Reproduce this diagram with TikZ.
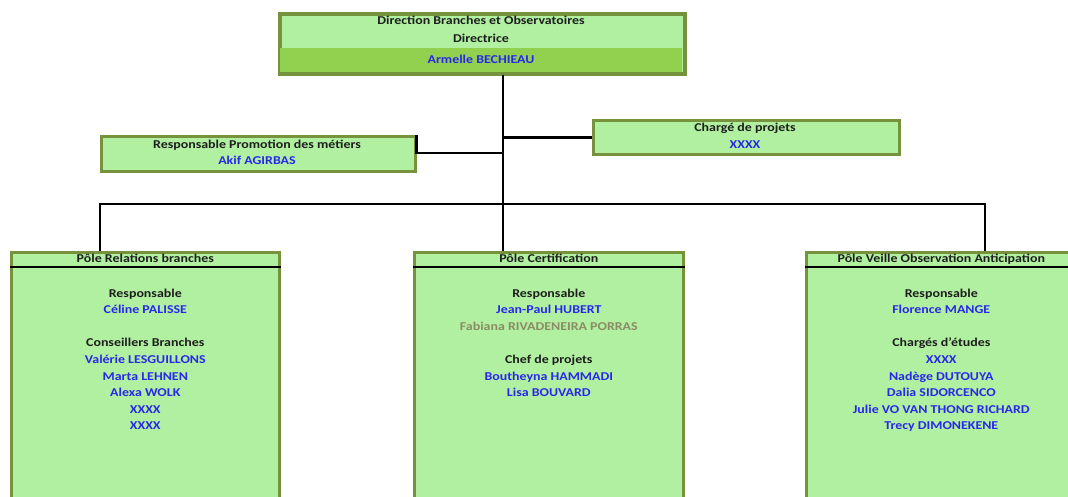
\documentclass[tikz,border=0pt]{standalone}
\usepackage{fontspec}
\setmainfont{Carlito}[FakeStretch=1.16]
\definecolor{boxfill}{RGB}{176,240,160}
\definecolor{bandfill}{RGB}{146,208,80}
\definecolor{boxline}{RGB}{118,146,60}
\definecolor{nameblue}{RGB}{40,40,235}
\definecolor{txtdark}{RGB}{30,30,30}
\definecolor{oldname}{RGB}{140,140,100}
\begin{document}
\begin{tikzpicture}[x=1pt,y=1pt,
  box/.style={draw=boxline, line width=2.6pt, fill=boxfill, inner sep=0pt, anchor=north west},
  conn/.style={draw=black, line width=2.9pt},
  lbl/.style={font=\fontsize{12}{16.6}\selectfont\bfseries, text=txtdark, align=center, inner sep=0pt},
  nm/.style={lbl, text=nameblue}]
\useasboundingbox (0,0) rectangle (1068,-497);

% top box
\node[box, minimum width=404, minimum height=59] (dir) at (279,-13) {};
\fill[bandfill] (280.3,-48) rectangle (681.7,-71.7);
\draw[boxline, line width=2.6pt] (dir.north west) rectangle (dir.south east);
\node[lbl, anchor=base] (dir1) at (481,-24.8) {Direction Branches et Observatoires};
\node[lbl, anchor=base] (dir2) at (481,-42.3) {Directrice};
\node[nm, anchor=base] (dir3) at (481,-63.3) {Armelle BECHIEAU};

% side boxes
\node[box, minimum width=314, minimum height=35] (promo) at (100,-135) {};
\node[lbl, anchor=base] (promo1) at (257,-148.8) {Responsable Promotion des métiers};
\node[nm, anchor=base] (promo2) at (257,-164.8) {Akif AGIRBAS};

\node[box, minimum width=306, minimum height=34] (chg) at (592,-119) {};
\node[lbl, anchor=base] (chg1) at (745,-131.3) {Chargé de projets};
\node[nm, anchor=base] (chg2) at (745,-148.3) {XXXX};

% poles
\node[box, minimum width=268, minimum height=262] (p1) at (10,-251) {};
\node[box, minimum width=269, minimum height=262] (p2) at (413,-251) {};
\node[box, minimum width=270, minimum height=262] (p3) at (805,-251) {};
\foreach \p in {p1,p2,p3}{
  \draw[line width=2.8pt] ([yshift=-16pt]\p.north west) -- ([yshift=-16pt]\p.north east);
}
\node[lbl, anchor=base] (p1t) at (p1.north |- 0,-262.3) {Pôle Relations branches};
\node[lbl, anchor=base] (p2t) at (p2.north |- 0,-262.3) {Pôle Certification};
\node[lbl, anchor=base] (p3t) at (p3.north |- 0,-262.3) {Pôle Veille Observation Anticipation};

\node[lbl, anchor=north] (p1c) at (p1.north |- 0,-288.5) {Responsable\\
  \textcolor{nameblue}{Céline PALISSE}\\[16.6pt]
  Conseillers Branches\\
  \textcolor{nameblue}{Valérie LESGUILLONS}\\
  \textcolor{nameblue}{Marta LEHNEN}\\
  \textcolor{nameblue}{Alexa WOLK}\\
  \textcolor{nameblue}{XXXX}\\
  \textcolor{nameblue}{XXXX}};
\node[lbl, anchor=north] (p2c) at (p2.north |- 0,-288.5) {Responsable\\
  \textcolor{nameblue}{Jean-Paul HUBERT}\\
  \textcolor{oldname}{Fabiana RIVADENEIRA PORRAS}\\[16.6pt]
  Chef de projets\\
  \textcolor{nameblue}{Boutheyna HAMMADI}\\
  \textcolor{nameblue}{Lisa BOUVARD}};
\node[lbl, anchor=north] (p3c) at (p3.north |- 0,-288.5) {Responsable\\
  \textcolor{nameblue}{Florence MANGE}\\[16.6pt]
  Chargés d'études\\
  \textcolor{nameblue}{XXXX}\\
  \textcolor{nameblue}{Nadège DUTOUYA}\\
  \textcolor{nameblue}{Dalia SIDORCENCO}\\
  \textcolor{nameblue}{Julie VO VAN THONG RICHARD}\\
  \textcolor{nameblue}{Trecy DIMONEKENE}};

% connectors
\coordinate (tr) at (503,-204);
\coordinate (b1) at (100,-204);
\coordinate (b3) at (985,-204);
\draw[conn] (dir.south -| tr) -- (tr);
\draw[conn] (p1.north -| b1) -- (b1) -- (b3) -- (p3.north -| b3);
\draw[conn] (tr) -- (p2.north -| tr);
\draw[conn] (promo.north east) |- (tr |- 0,-153);
\draw[conn] (tr |- chg.west) -- (chg.west);
\end{tikzpicture}
\end{document}
